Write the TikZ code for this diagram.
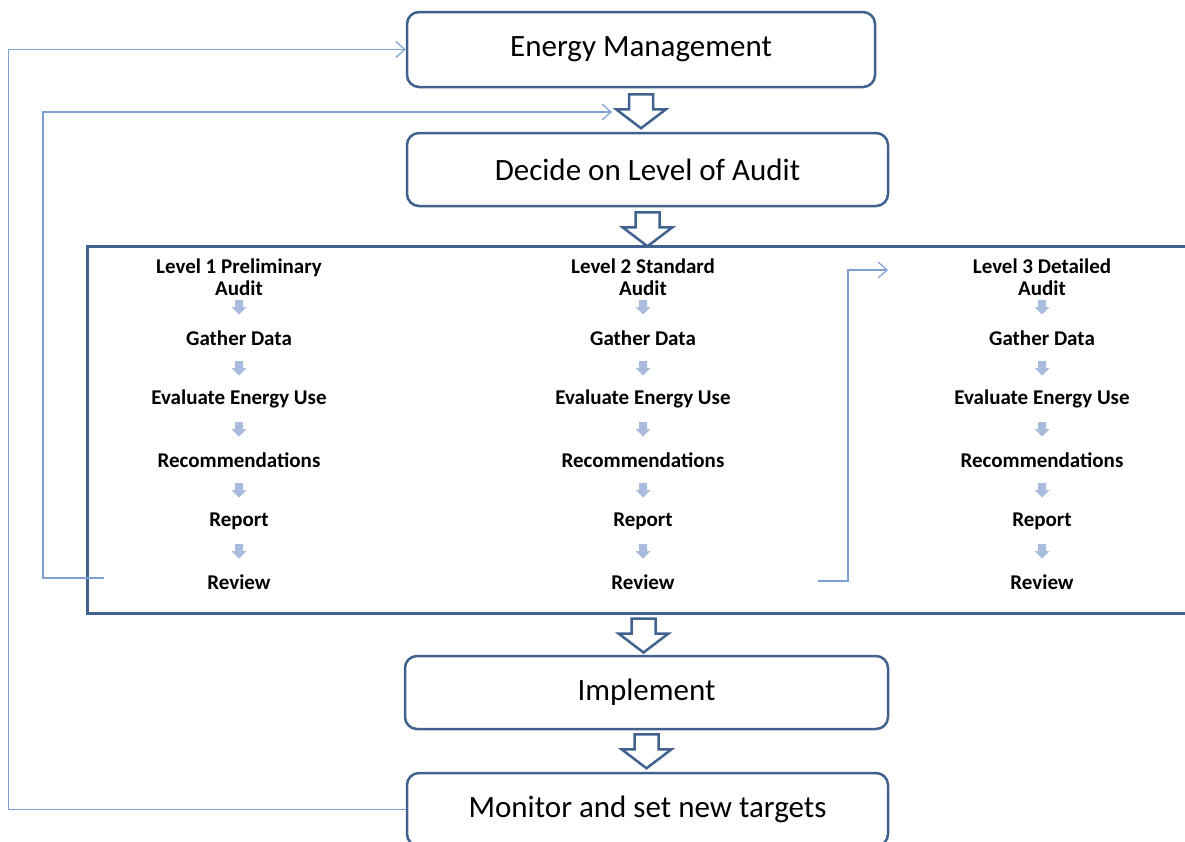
\documentclass[tikz,border=0pt]{standalone}
\usepackage{fontspec}
\setmainfont{Carlito}
\usetikzlibrary{positioning,calc,arrows.meta}
\definecolor{boxblue}{HTML}{41618F}
\definecolor{fbblue}{HTML}{7EA1D3}
\definecolor{stepfill}{HTML}{A9BCDD}

\tikzset{
  stage/.style={draw=boxblue, line width=2.5pt, rounded corners=12pt,
    minimum width=481pt, minimum height=73pt, font=\fontsize{31}{36}\selectfont},
  frame/.style={draw=boxblue, line width=3pt},
  auditstep/.style={font=\fontsize{21}{22}\selectfont\bfseries, align=center, inner sep=1pt},
  fb/.style={draw=fbblue, line width=1.2pt, -{Straight Barb[length=9pt,width=16pt]}},
  bigdown/.pic={\draw[draw=boxblue, line width=2.5pt, fill=white]
    (-12,0) -- (12,0) -- (12,15) -- (25,15) -- (0,34) -- (-25,15) -- (-12,15) -- cycle;},
  smalldown/.pic={\fill[stepfill]
    (-4,-7) -- (4,-7) -- (4,0) -- (7.5,0) -- (0,7.5) -- (-7.5,0) -- (-4,0) -- cycle;}
}

\begin{document}
\begin{tikzpicture}[x=1pt,y=-1pt]
  \useasboundingbox (0,0) rectangle (1185,841);
  \clip (0,0) rectangle (1185,841);

  % main stages
  \node[stage, minimum width=468pt, minimum height=75pt] (em) at (641,49.5) {Energy Management};
  \node[stage] (dec) at (647.5,169.5) {Decide on Level of Audit};
  \node[frame, minimum width=1113pt, minimum height=367pt] (audits) at (643.5,429.5) {};
  \node[stage, minimum width=483pt] (imp) at (646.5,692.5) {Implement};
  \node[stage] (mon) at (647.5,809.5) {Monitor and set new targets};

  \pic at ($(em.south)+(0,6)$) {bigdown};
  \pic at ($(dec.south)+(0,5)$) {bigdown};
  \pic at ($(audits.south)+(0,4)$) {bigdown};
  \pic at ($(imp.south)+(0,4)$) {bigdown};

  % the three audit levels
  \foreach \col/\x/\n in {a/239/1 Preliminary, b/643/2 Standard, c/1042/3 Detailed} {
    \node[auditstep] (\col0) at (\x,277) {Level \n\\Audit};
    \foreach \t [count=\i] in {Gather Data, Evaluate Energy Use, Recommendations, Report, Review} {
      \node[auditstep] (\col\i) at (\x,277+61*\i) {\t};
      \pic at (\x,246+61*\i) {smalldown};
    }
  }

  % feedback lines
  \coordinate (back1) at (104,578);
  \coordinate (hint) at (612,112);
  \coordinate (up3) at (818,581);
  \coordinate (in3) at (888,270);
  \draw[fb] (mon.west) -- ++(-397,0) |- (em.west);
  \draw[fb] (back1) -- ++(-61,0) |- (hint);
  \draw[fb] (up3) -- ++(30,0) |- (in3);
\end{tikzpicture}
\end{document}
